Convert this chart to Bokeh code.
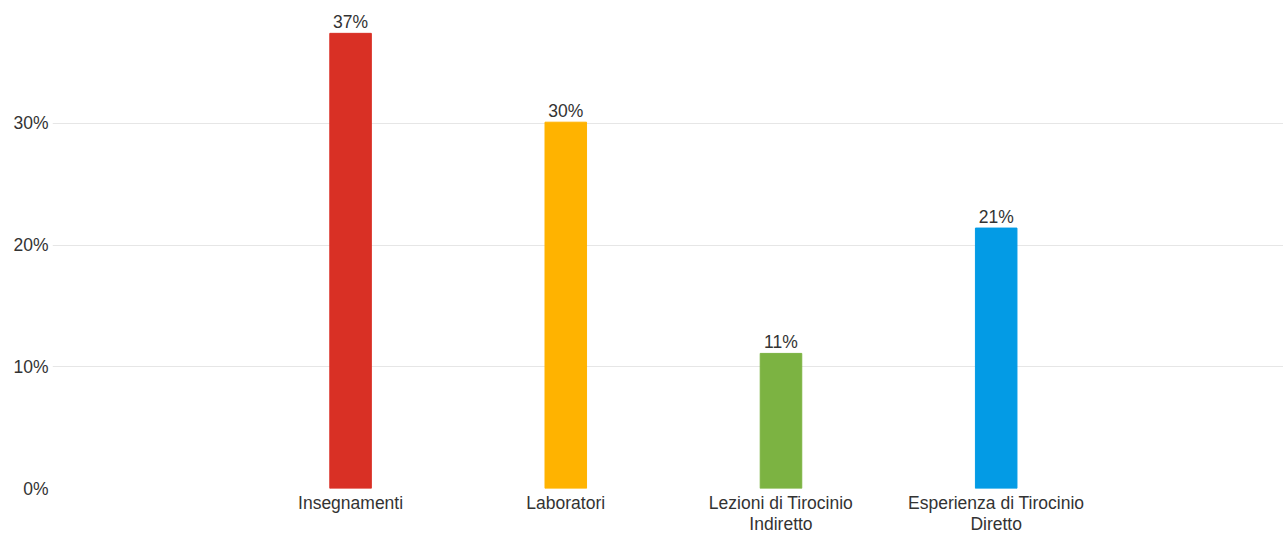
from bokeh.plotting import figure
from bokeh.models import ColumnDataSource, Range1d, FixedTicker, NumeralTickFormatter
from bokeh.core.properties import value
from bokeh.embed import file_html
from bokeh.resources import INLINE

# Share of responses per category (percent)
categories = ["Insegnamenti", "Laboratori", "Lezioni di Tirocinio\nIndiretto", "Esperienza di Tirocinio\nDiretto"]
shares = [37.4, 30.1, 11.1, 21.4]
colors = ["#d93025", "#ffb300", "#7cb342", "#039be5"]
y_ticks = [0, 10, 20, 30]

positions = list(range(len(categories)))
labels = [f"{round(v)}%" for v in shares]

src = ColumnDataSource(dict(x=positions, top=shares, color=colors, label=labels))

p = figure(
    width=1283, height=536,
    output_backend="svg", toolbar_location=None,
    x_range=Range1d(-1.385, 4.335), y_range=Range1d(0, 40.1),
    min_border_left=52, min_border_right=0, min_border_top=0, min_border_bottom=0,
)
p.outline_line_color = None
p.background_fill_color = "white"
p.border_fill_color = "white"

p.vbar(x="x", top="top", bottom=0, width=0.193, color="color", source=src)

p.text(x="x", y="top", text="label", source=src,
       text_align="center", text_baseline="bottom", y_offset=-1,
       text_font=value("Liberation Sans"), text_font_size="17.5px", text_color="#333333")

# axes
p.xaxis.ticker = FixedTicker(ticks=positions)
p.xaxis.major_label_overrides = {i: c for i, c in zip(positions, categories)}
p.yaxis.ticker = FixedTicker(ticks=y_ticks)
p.yaxis.formatter = NumeralTickFormatter(format="0")
p.yaxis.major_label_overrides = {t: f"{t}%" for t in y_ticks}

for ax in (p.xaxis, p.yaxis):
    ax.axis_line_color = None
    ax.major_tick_line_color = None
    ax.minor_tick_line_color = None
    ax.major_tick_out = 0
    ax.major_tick_in = 0
    ax.minor_tick_out = 0
    ax.major_label_text_font = "Liberation Sans"
    ax.major_label_text_font_size = "17.5px"
    ax.major_label_text_color = "#333333"
p.xaxis.major_label_text_line_height = 1.05
p.xaxis.major_label_standoff = 4
p.yaxis.major_label_standoff = 4

p.xgrid.grid_line_color = None
p.ygrid.grid_line_color = "#e6e6e6"
p.ygrid.grid_line_width = 1

open("out.html", "w").write(file_html(p, INLINE))
